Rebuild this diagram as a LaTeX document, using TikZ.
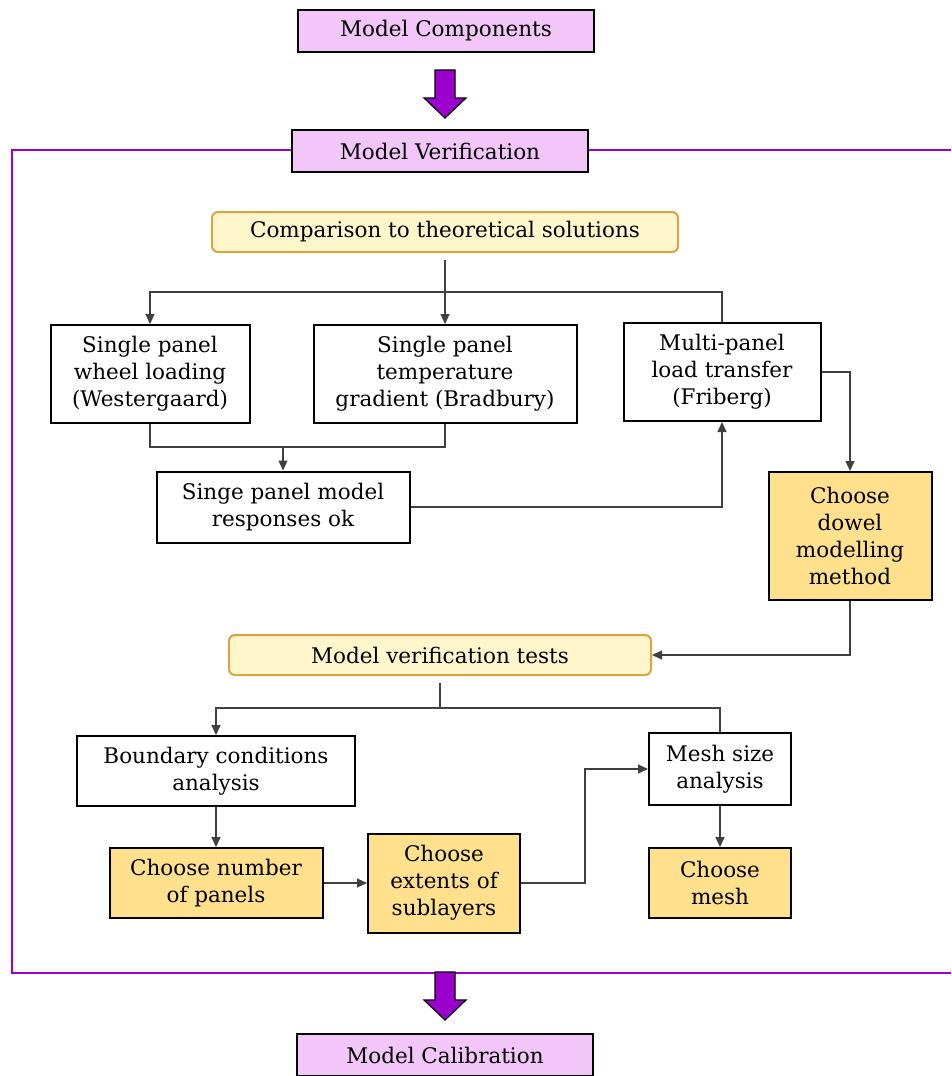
\documentclass[tikz,border=0pt]{standalone}
\usepackage{fontspec}
\setmainfont{DejaVu Serif}
\usetikzlibrary{arrows.meta, positioning}

\definecolor{phasepink}{HTML}{F2C6F8}
\definecolor{framepurple}{HTML}{9B00CC}
\definecolor{choicegold}{HTML}{FFE08C}
\definecolor{testcream}{HTML}{FFF6CC}
\definecolor{testborder}{HTML}{D9A441}
\definecolor{linkgrey}{HTML}{404040}

\begin{document}
\begin{tikzpicture}[x=1pt, y=-1pt, >={Triangle[length=10pt,width=9pt]},
 font=\fontsize{21.5}{27}\selectfont,
 box/.style={draw=black, line width=2pt, align=center, inner sep=0pt},
 phase node/.style={box, fill=phasepink, minimum width=296pt, minimum height=42pt},
 main node/.style={box, fill=white},
 choice node/.style={box, fill=choicegold},
 test node/.style={box, draw=testborder, fill=testcream, rounded corners=6pt, minimum height=40pt},
 link/.style={draw=linkgrey, line width=1.2pt},
 frame/.style={draw=framepurple, line width=2.8pt},
 big arrow/.style={fill=framepurple, draw=black, line width=1.2pt}]

  \useasboundingbox (0,0) rectangle (951,1076);
  \clip (0,0) rectangle (951,1076);

  % phases
  \node[phase node] (mcomp) at (446,31) {Model Components};
  \node[phase node] (mcal) at (445,1055) {Model Calibration};

  % verification frame
  \draw[frame] (440,150) -| (12,973) -- (960,973);
  \draw[frame] (440,150) -- (960,150);
  \node[phase node] (mver) at (440,151) {Model Verification};

  \foreach \y in {70,972} {
   \draw[big arrow] (435,\y) -- (455,\y) -- (455,\y+28) -- (466,\y+28) -- (445,\y+48)
    -- (424,\y+28) -- (435,\y+28) -- cycle;}

  % theoretical solutions
  \node[test node, minimum width=466pt] (comp) at (445,232) {Comparison to theoretical solutions};
  \node[main node, minimum width=199pt, minimum height=98pt] (wheel) at (150,374)
   {Single panel\\wheel loading\\(Westergaard)};
  \node[main node, minimum width=263pt, minimum height=98pt] (temp) at (445,374)
   {Single panel\\temperature\\gradient (Bradbury)};
  \node[main node, minimum width=197pt, minimum height=98pt] (friberg) at (722,372)
   {Multi-panel\\load transfer\\(Friberg)};
  \node[main node, minimum width=253pt, minimum height=71pt] (singe) at (283,507)
   {Singe panel model\\responses ok};
  \node[choice node, minimum width=163pt, minimum height=128pt] (dowel) at (850,536)
   {Choose\\dowel\\modelling\\method};

  % verification tests
  \node[test node, minimum width=422pt] (tests) at (440,655) {Model verification tests};
  \node[main node, minimum width=278pt, minimum height=70pt] (boundary) at (216,771)
   {Boundary conditions\\analysis};
  \node[main node, minimum width=142pt, minimum height=72pt] (meshsize) at (720,769)
   {Mesh size\\analysis};
  \node[choice node, minimum width=213pt, minimum height=70pt] (panels) at (216,883)
   {Choose number\\of panels};
  \node[choice node, minimum width=152pt, minimum height=99pt] (extents) at (444,883)
   {Choose\\extents of\\sublayers};
  \node[choice node, minimum width=142pt, minimum height=70pt] (mesh) at (720,883)
   {Choose\\mesh};

  \coordinate (split1) at (445,292);
  \coordinate (merge1) at (283,447);
  \coordinate (split2) at (440,708);
  \coordinate (bend) at (585,883);

  \draw[link, ->, shorten <=7pt] (comp.south) -- (temp.north);
  \draw[link, ->] (split1) -| (wheel.north);
  \draw[link] (split1) -| (friberg.north);
  \draw[link] (wheel.south) |- (temp.south |- merge1) -- (temp.south);
  \draw[link, ->] (merge1) -- (singe.north);
  \draw[link, ->] (singe.east) -| (friberg.south);
  \draw[link, ->] (friberg.east) -| (dowel.north);
  \draw[link, ->] (dowel.south) |- (tests.east);

  \draw[link, shorten <=7pt] (tests.south) -- (split2);
  \draw[link, ->] (split2) -| (boundary.north);
  \draw[link] (split2) -| (meshsize.north);
  \draw[link, ->] (boundary) -- (panels);
  \draw[link, ->] (panels) -- (extents);
  \draw[link, ->] (extents.east) -- (bend) |- (meshsize.west);
  \draw[link, ->] (meshsize) -- (mesh);
\end{tikzpicture}
\end{document}
